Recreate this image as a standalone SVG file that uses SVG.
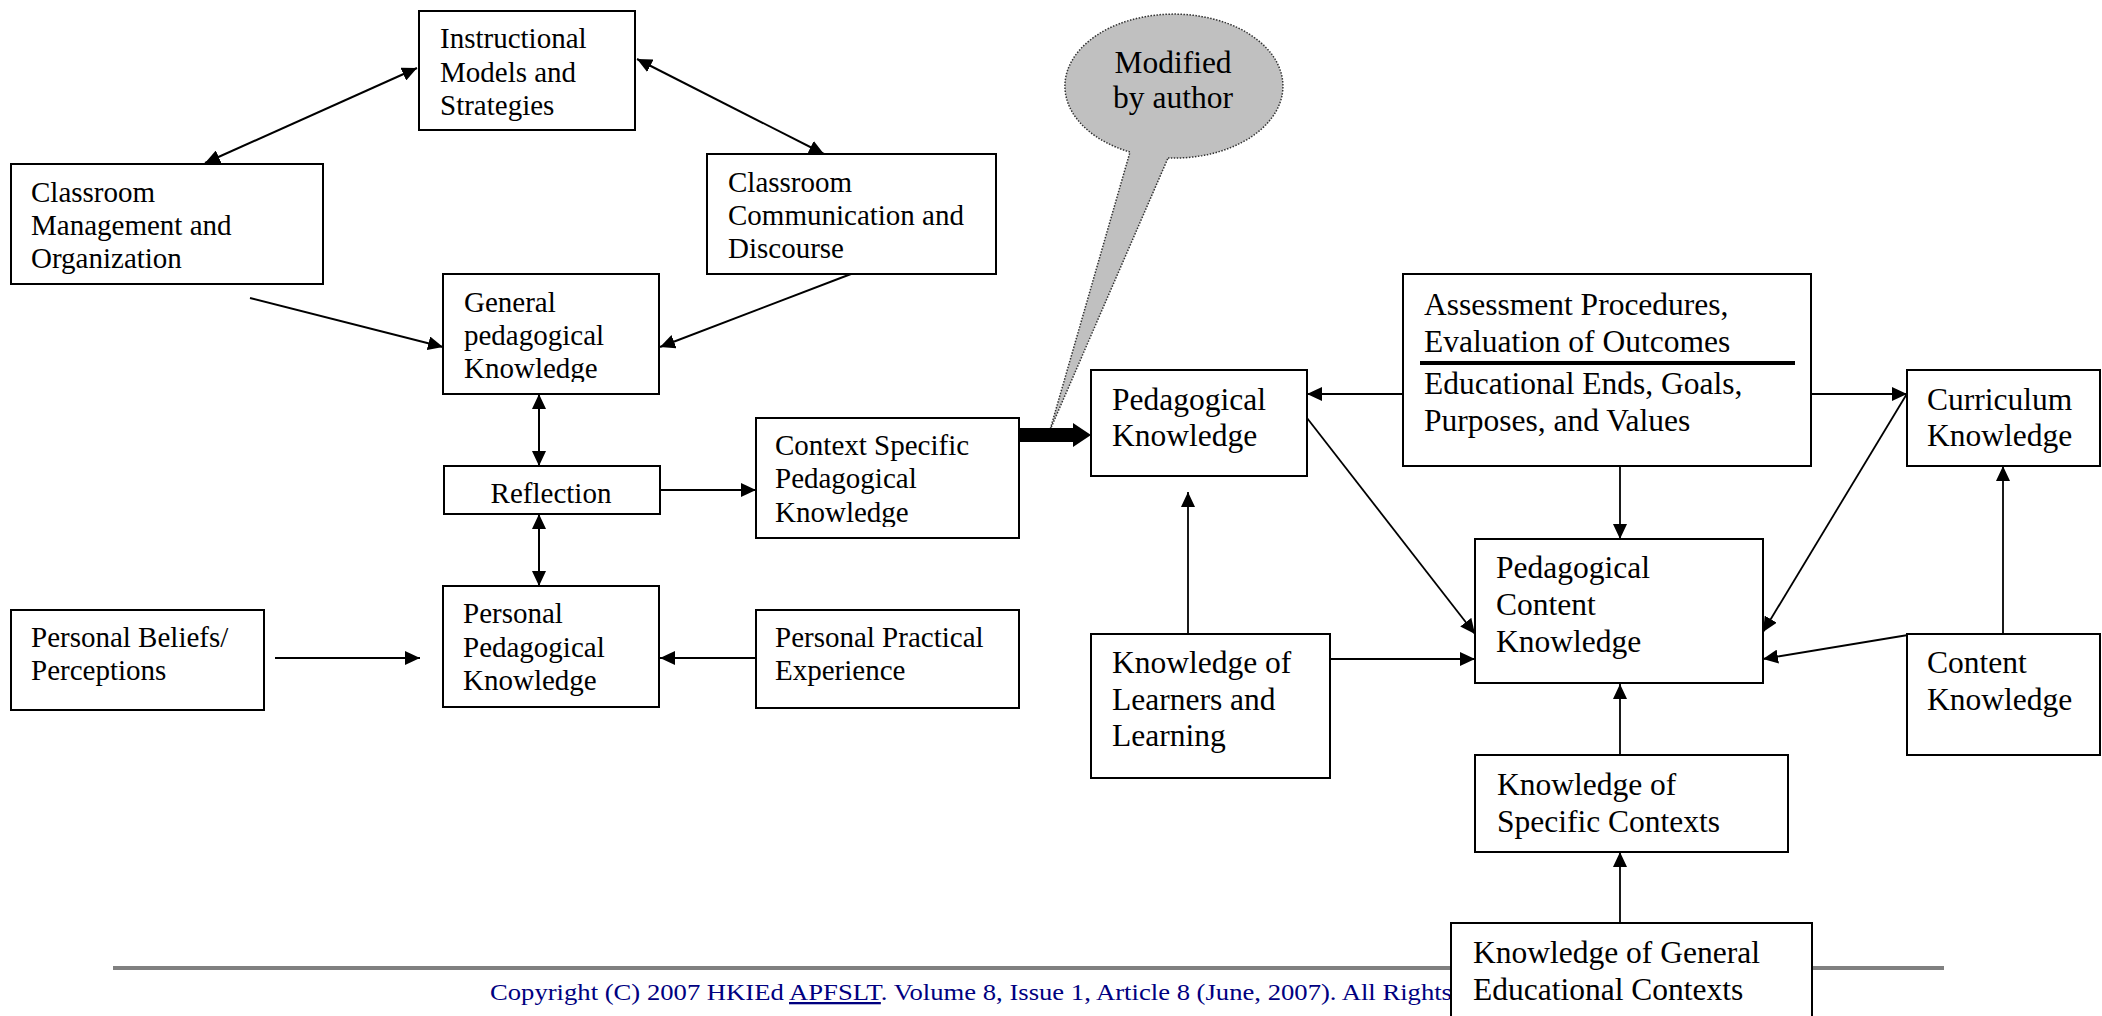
<svg xmlns="http://www.w3.org/2000/svg" width="2102" height="1016" viewBox="0 0 2102 1016">
<style>
text{font-family:Liberation Serif,Times New Roman,serif}
.tl{font-size:29px;fill:#000}
.tr{font-size:31.5px;fill:#000}
.box{fill:#fff;stroke:#000;stroke-width:2}
.ln{stroke:#000;stroke-width:2;fill:none}
.lr{stroke:#000;stroke-width:1.8;fill:none}
</style>
<defs>
<marker id="ah" viewBox="0 0 15 14" refX="15" refY="7" markerWidth="15" markerHeight="14" markerUnits="userSpaceOnUse" orient="auto-start-reverse"><path d="M0,0L15,7L0,14z" fill="#000"/></marker>
<clipPath id="cGen"><rect x="443" y="274" width="216" height="108"/></clipPath>
<clipPath id="cCtx"><rect x="756" y="418" width="263" height="109"/></clipPath>
<clipPath id="cPer"><rect x="443" y="586" width="216" height="110"/></clipPath>
</defs>
<rect width="2102" height="1016" fill="#fff"/>
<g font-family="Liberation Serif, Times New Roman, serif">
<g id="footer">
<line x1="113" y1="968" x2="1944" y2="968" stroke="#808080" stroke-width="4"/>
<text x="490" y="1000" font-size="23" fill="#000080" textLength="962" lengthAdjust="spacingAndGlyphs">Copyright (C) 2007 HKIEd <tspan text-decoration="underline">APFSLT</tspan>. Volume 8, Issue 1, Article 8 (June, 2007). All Rights</text>
</g>

<g id="bubble">
<path d="M1168,158 A109,72 0 1 0 1130,152 L1050,430 Z" fill="#c0c0c0" stroke="#333" stroke-width="1.5" stroke-dasharray="1.5,1.5"/>
<text class="tr" x="1173" y="73" text-anchor="middle">Modified</text>
<text class="tr" x="1173" y="108" text-anchor="middle">by author</text>
</g>

<g id="connectors">
<line class="ln" x1="417" y1="68" x2="205" y2="163" marker-start="url(#ah)" marker-end="url(#ah)"/>
<line class="ln" x1="637" y1="59" x2="824" y2="154" marker-start="url(#ah)" marker-end="url(#ah)"/>
<line class="ln" x1="250" y1="298" x2="443" y2="347" marker-end="url(#ah)"/>
<line class="ln" x1="851" y1="274" x2="660" y2="347" marker-end="url(#ah)"/>
<line class="ln" x1="539" y1="394" x2="539" y2="466" marker-start="url(#ah)" marker-end="url(#ah)"/>
<line class="ln" x1="539" y1="514" x2="539" y2="586" marker-start="url(#ah)" marker-end="url(#ah)"/>
<line class="ln" x1="660" y1="490" x2="756" y2="490" marker-end="url(#ah)"/>
<line class="ln" x1="275" y1="658" x2="420" y2="658" marker-end="url(#ah)"/>
<line class="ln" x1="756" y1="658" x2="660" y2="658" marker-end="url(#ah)"/>
<path d="M1019,428 H1073 V423 L1091,435 L1073,447 V442 H1019 Z" fill="#000"/>
<line class="lr" x1="1403" y1="394" x2="1307" y2="394" marker-end="url(#ah)"/>
<line class="lr" x1="1811" y1="394" x2="1907" y2="394" marker-end="url(#ah)"/>
<line class="lr" x1="1620" y1="466" x2="1620" y2="539" marker-end="url(#ah)"/>
<line class="lr" x1="1307" y1="418" x2="1475" y2="634" marker-end="url(#ah)"/>
<line class="lr" x1="1908" y1="392" x2="1763" y2="632" marker-end="url(#ah)"/>
<line class="lr" x1="1908" y1="635" x2="1763" y2="659" marker-end="url(#ah)"/>
<line class="lr" x1="2003" y1="634" x2="2003" y2="466" marker-end="url(#ah)"/>
<line class="lr" x1="1188" y1="634" x2="1188" y2="492" marker-end="url(#ah)"/>
<line class="lr" x1="1330" y1="659" x2="1475" y2="659" marker-end="url(#ah)"/>
<line class="lr" x1="1620" y1="755" x2="1620" y2="684" marker-end="url(#ah)"/>
<line class="lr" x1="1620" y1="923" x2="1620" y2="852" marker-end="url(#ah)"/>
</g>

<g id="instructional">
<rect class="box" x="419" y="11" width="216" height="119"/>
<text class="tl" x="440" y="48">Instructional</text>
<text class="tl" x="440" y="82">Models and</text>
<text class="tl" x="440" y="115">Strategies</text>
</g>
<g id="classroom-management">
<rect class="box" x="11" y="164" width="312" height="120"/>
<text class="tl" x="31" y="202">Classroom</text>
<text class="tl" x="31" y="235">Management and</text>
<text class="tl" x="31" y="268">Organization</text>
</g>
<g id="classroom-communication">
<rect class="box" x="707" y="154" width="289" height="120"/>
<text class="tl" x="728" y="192">Classroom</text>
<text class="tl" x="728" y="225">Communication and</text>
<text class="tl" x="728" y="258">Discourse</text>
</g>
<g id="general-pedagogical">
<rect class="box" x="443" y="274" width="216" height="120"/>
<g clip-path="url(#cGen)">
<text class="tl" x="464" y="312">General</text>
<text class="tl" x="464" y="345">pedagogical</text>
<text class="tl" x="464" y="378">Knowledge</text>
</g>
</g>
<g id="reflection">
<rect class="box" x="444" y="466" width="216" height="48"/>
<text class="tl" x="551" y="503" text-anchor="middle">Reflection</text>
</g>
<g id="context-specific">
<rect class="box" x="756" y="418" width="263" height="120"/>
<g clip-path="url(#cCtx)">
<text class="tl" x="775" y="455">Context Specific</text>
<text class="tl" x="775" y="488">Pedagogical</text>
<text class="tl" x="775" y="522">Knowledge</text>
</g>
</g>
<g id="personal-pedagogical">
<rect class="box" x="443" y="586" width="216" height="121"/>
<g clip-path="url(#cPer)">
<text class="tl" x="463" y="623">Personal</text>
<text class="tl" x="463" y="657">Pedagogical</text>
<text class="tl" x="463" y="690">Knowledge</text>
</g>
</g>
<g id="personal-beliefs">
<rect class="box" x="11" y="610" width="253" height="100"/>
<text class="tl" x="31" y="647">Personal Beliefs/</text>
<text class="tl" x="31" y="680">Perceptions</text>
</g>
<g id="personal-practical">
<rect class="box" x="756" y="610" width="263" height="98"/>
<text class="tl" x="775" y="647">Personal Practical</text>
<text class="tl" x="775" y="680">Experience</text>
</g>

<g id="pedagogical-knowledge">
<rect class="box" x="1091" y="370" width="216" height="106"/>
<text class="tr" x="1112" y="410">Pedagogical</text>
<text class="tr" x="1112" y="446">Knowledge</text>
</g>
<g id="assessment">
<rect class="box" x="1403" y="274" width="408" height="192"/>
<text class="tr" x="1424" y="315">Assessment Procedures,</text>
<text class="tr" x="1424" y="352">Evaluation of Outcomes</text>
<line x1="1420" y1="363" x2="1795" y2="363" stroke="#000" stroke-width="4"/>
<text class="tr" x="1424" y="394">Educational Ends, Goals,</text>
<text class="tr" x="1424" y="431">Purposes, and Values</text>
</g>
<g id="curriculum">
<rect class="box" x="1907" y="370" width="193" height="96"/>
<text class="tr" x="1927" y="410">Curriculum</text>
<text class="tr" x="1927" y="446">Knowledge</text>
</g>
<g id="pck">
<rect class="box" x="1475" y="539" width="288" height="144"/>
<text class="tr" x="1496" y="578">Pedagogical</text>
<text class="tr" x="1496" y="615">Content</text>
<text class="tr" x="1496" y="652">Knowledge</text>
</g>
<g id="learners">
<rect class="box" x="1091" y="634" width="239" height="144"/>
<text class="tr" x="1112" y="673">Knowledge of</text>
<text class="tr" x="1112" y="710">Learners and</text>
<text class="tr" x="1112" y="746">Learning</text>
</g>
<g id="content">
<rect class="box" x="1907" y="634" width="193" height="121"/>
<text class="tr" x="1927" y="673">Content</text>
<text class="tr" x="1927" y="710">Knowledge</text>
</g>
<g id="specific-contexts">
<rect class="box" x="1475" y="755" width="313" height="97"/>
<text class="tr" x="1497" y="795">Knowledge of</text>
<text class="tr" x="1497" y="832">Specific Contexts</text>
</g>
<g id="general-contexts">
<rect class="box" x="1451" y="923" width="361" height="100"/>
<text class="tr" x="1473" y="963">Knowledge of General</text>
<text class="tr" x="1473" y="1000">Educational Contexts</text>
</g>
</g>
</svg>
